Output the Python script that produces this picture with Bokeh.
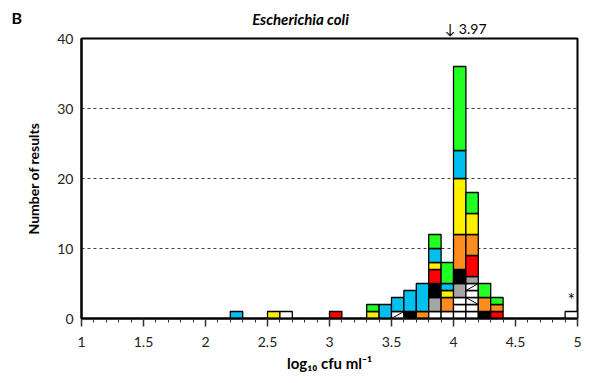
from bokeh.plotting import figure
from bokeh.models import FixedTicker, Label, ColumnDataSource, Range1d
from bokeh.embed import file_html
from bokeh.resources import INLINE

# ---- data ----
bin_left = [2.2, 2.5, 2.6, 3.0, 3.3, 3.4, 3.5, 3.6, 3.7, 3.8, 3.9, 4.0, 4.1, 4.2, 4.3, 4.9]
bin_width = 0.1
white_a    = [0, 0, 1, 0, 0, 0, 0, 0, 0, 1, 1, 1, 2, 0, 0, 1]
hatch_back = [0, 0, 0, 0, 0, 0, 0, 0, 0, 0, 0, 0, 1, 0, 0, 0]
white_c    = [0, 0, 0, 0, 0, 0, 0, 0, 0, 0, 0, 2, 1, 0, 0, 0]
hatch_fwd  = [0, 0, 0, 0, 0, 0, 1, 0, 0, 0, 0, 0, 1, 0, 0, 0]
gray       = [0, 0, 0, 0, 0, 0, 0, 0, 0, 2, 0, 2, 1, 0, 0, 0]
black      = [0, 0, 0, 0, 0, 0, 0, 1, 0, 2, 0, 2, 0, 1, 0, 0]
red        = [0, 0, 0, 1, 0, 0, 0, 0, 0, 2, 0, 0, 3, 0, 1, 0]
orange     = [0, 0, 0, 0, 0, 0, 0, 0, 1, 0, 2, 5, 3, 2, 1, 0]
yellow     = [0, 1, 0, 0, 1, 0, 0, 0, 0, 1, 1, 8, 3, 0, 0, 0]
blue       = [1, 0, 0, 0, 0, 2, 2, 3, 4, 2, 1, 4, 0, 0, 0, 0]
green      = [0, 0, 0, 0, 1, 0, 0, 0, 0, 2, 3, 12, 3, 2, 1, 0]

x_ticks = [1, 1.5, 2, 2.5, 3, 3.5, 4, 4.5, 5]
x_tick_labels = ["1", "1.5", "2", "2.5", "3", "3.5", "4", "4.5", "5"]
y_ticks = [0, 10, 20, 30, 40]
median_value = 3.97
flag_bin_center = 4.95

# ---- styles ----
series = [
    (white_a, "#FFFFFF", None),
    (hatch_back, "#FFFFFF", "back"),
    (white_c, "#FFFFFF", None),
    (hatch_fwd, "#FFFFFF", "fwd"),
    (gray, "#A6A6A6", None),
    (black, "#000000", None),
    (red, "#FF0000", None),
    (orange, "#FF8C1E", None),
    (yellow, "#FFF000", None),
    (blue, "#00C0F0", None),
    (green, "#22FF22", None),
]

FONT = "Lato"

L, R, B, T, C = [], [], [], [], []
sx0, sy0, sx1, sy1 = [], [], [], []
for i, left in enumerate(bin_left):
    bottom = 0
    right = left + bin_width
    for counts, color, hatch in series:
        n = counts[i]
        if n == 0:
            continue
        if color == "#FFFFFF":
            for k in range(n):
                L.append(left); R.append(right)
                B.append(bottom + k); T.append(bottom + k + 1); C.append(color)
                if hatch == "fwd":
                    sx0.append(left); sy0.append(bottom + k); sx1.append(right); sy1.append(bottom + k + 1)
                elif hatch == "back":
                    sx0.append(left); sy0.append(bottom + k + 1); sx1.append(right); sy1.append(bottom + k)
        else:
            L.append(left); R.append(right)
            B.append(bottom); T.append(bottom + n); C.append(color)
        bottom += n

p = figure(width=585, height=380, output_backend="svg", toolbar_location=None,
           x_range=Range1d(1, 5), y_range=Range1d(0, 40),
           min_border_left=81, min_border_right=8, min_border_top=38, min_border_bottom=62)

p.outline_line_color = "black"
p.outline_line_width = 2
p.outline_line_alpha = 1
p.background_fill_color = "white"
p.border_fill_color = "white"

p.xgrid.visible = False
p.ygrid.ticker = FixedTicker(ticks=[10, 20, 30])
p.ygrid.grid_line_color = "#404040"
p.ygrid.grid_line_dash = "3 3"
p.ygrid.grid_line_width = 1

src = ColumnDataSource(dict(left=L, right=R, bottom=B, top=T, color=C))
p.quad(left="left", right="right", bottom="bottom", top="top", fill_color="color",
       line_color="black", line_width=1.3, source=src)
p.segment(x0=sx0, y0=sy0, x1=sx1, y1=sy1, line_color="black", line_width=1)

minor = [round(1 + 0.1 * k, 1) for k in range(41)]
minor = [m for m in minor if m not in x_ticks]
p.xaxis.ticker = FixedTicker(ticks=x_ticks, minor_ticks=minor)
p.xaxis.major_label_overrides = {t: s for t, s in zip(x_ticks, x_tick_labels)}
p.xaxis.axis_line_width = 2
p.xaxis.major_tick_in = 0
p.xaxis.major_tick_out = 8
p.xaxis.major_tick_line_width = 1.5
p.xaxis.major_tick_line_color = "#333333"
p.xaxis.minor_tick_in = 0
p.xaxis.minor_tick_out = 4
p.xaxis.minor_tick_line_color = "#333333"
p.xaxis.major_label_standoff = 10
p.xaxis.major_label_text_font = FONT
p.xaxis.major_label_text_font_size = "14px"
p.xaxis.major_label_text_color = "#222222"
p.xaxis.axis_label = "log\u2081\u2080 cfu ml\u207b\u00b9"
p.xaxis.axis_label_text_font = FONT
p.xaxis.axis_label_text_font_style = "bold"
p.xaxis.axis_label_text_font_size = "15px"
p.xaxis.axis_label_standoff = 4
p.xaxis.axis_label_text_color = "#000000"

p.yaxis.ticker = FixedTicker(ticks=y_ticks)
p.yaxis.axis_line_width = 2
p.yaxis.major_tick_in = 0
p.yaxis.major_tick_out = 0
p.yaxis.minor_tick_line_color = None
p.yaxis.major_label_standoff = 8
p.yaxis.major_label_text_font = FONT
p.yaxis.major_label_text_font_size = "14px"
p.yaxis.major_label_text_color = "#222222"
p.yaxis.axis_label = "Number of results"
p.yaxis.axis_label_text_font = FONT
p.yaxis.axis_label_text_font_style = "bold"
p.yaxis.axis_label_text_font_size = "14px"
p.yaxis.axis_label_standoff = 12
p.yaxis.axis_label_text_color = "#000000"

def mk(text, x, y, size, style="bold", align="left", baseline="middle", xu="screen"):
    return Label(x=x, y=y, x_units=xu, y_units="screen", text=text,
                 text_font=FONT, text_font_size=size, text_font_style=style,
                 text_align=align, text_baseline=baseline, text_color="#000000")

# annotations outside the frame live in side panels (not clipped)
p.add_layout(mk("\u2193 3.97", median_value, 10, "14px", style="normal", xu="data", align="left"), "above")
p.renderers  # no-op
p.above[-1].x_offset = -5
p.add_layout(mk("Escherichia coli", 219, 3, "15px", style="bold italic", align="center"), "above")
p.add_layout(mk("B", 0, 301, "16px"), "left")
# asterisk on the flagged top-right bin (inside frame)
p.add_layout(mk("*", flag_bin_center, 19, "17px", style="normal", align="center", xu="data"))

open("out.html", "w").write(file_html(p, INLINE))
